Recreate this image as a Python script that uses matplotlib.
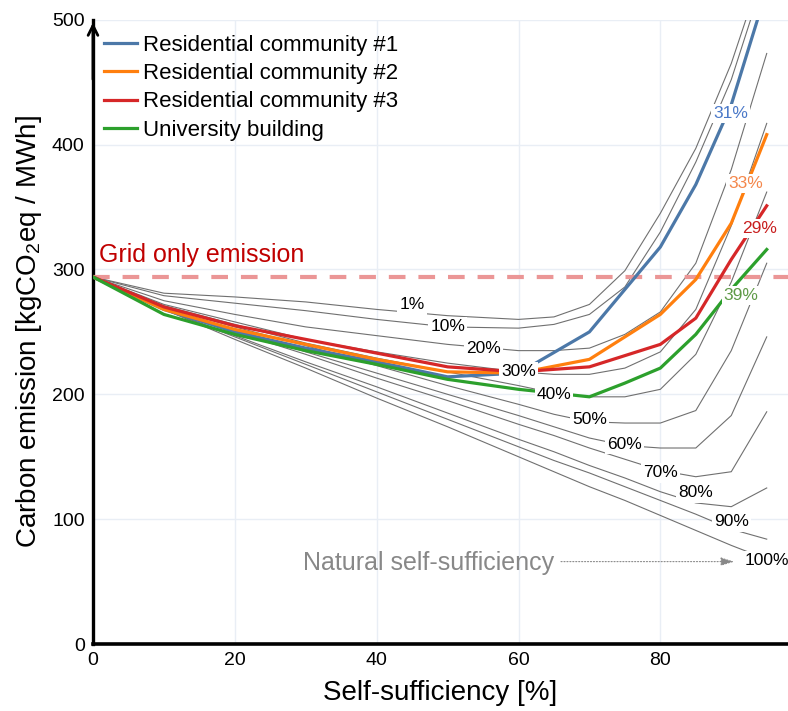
import numpy as np
import matplotlib.pyplot as plt

plt.rcParams['font.family'] = ['Liberation Sans', 'DejaVu Sans']
plt.rcParams['mathtext.default'] = 'regular'

# reference curves (grey), self-sufficiency in %
x_ref = [0, 10, 20, 30, 40, 50, 60, 65, 70, 75, 80, 85, 90, 95]
ref_names = ['1%', '10%', '20%', '30%', '40%', '50%', '60%', '70%', '80%', '90%', '100%']
ref_1 = [294, 281, 278, 274, 268, 263, 260, 262, 272, 299, 345, 397, 465, 550]
ref_10 = [294, 279, 273, 267, 260, 254, 253, 256, 264, 286, 330, 386, 452, 540]
ref_20 = [294, 275, 264, 254, 247, 240, 235, 235, 237, 248, 266, 305, 380, 473]
ref_30 = [294, 272, 258, 244, 234, 225, 218, 216, 216, 221, 234, 268, 335, 417]
ref_40 = [294, 271, 256, 241, 229, 218, 207, 201, 198, 198, 204, 232, 290, 362]
ref_50 = [294, 270, 254, 239, 223, 207, 192, 184, 178, 177, 177, 187, 235, 305]
ref_60 = [294, 269, 252, 234, 217, 200, 183, 174, 165, 159, 157, 157, 183, 246]
ref_70 = [294, 269, 250, 232, 213, 195, 176, 167, 157, 148, 139, 134, 138, 186]
ref_80 = [294, 268, 247, 226, 206, 185, 164, 154, 143, 133, 122, 113, 110, 125]
ref_90 = [294, 268, 246, 224, 202, 180, 158, 147, 137, 126, 115, 104, 92, 84]
ref_100 = [294, 268, 244, 221, 197, 174, 150, 138, 126, 115, 103, 91, 79, 68]
ref_curves = [ref_1, ref_10, ref_20, ref_30, ref_40, ref_50,
              ref_60, ref_70, ref_80, ref_90, ref_100]

# actual cases
x_case = [0, 10, 20, 30, 40, 50, 60, 70, 75, 80, 85, 90, 95]
res1 = [294, 268, 250, 237, 226, 214, 217, 250, 284, 318, 368, 432, 524]
res2 = [294, 268, 252, 240, 228, 218, 217, 228, 246, 264, 292, 337, 408]
res3 = [294, 270, 255, 244, 233, 222, 218, 222, 231, 240, 261, 308, 351]
univ = [294, 264, 248, 235, 224, 212, 204, 198, 209, 221, 248, 284, 316]
case_names = ['Residential community #1', 'Residential community #2',
              'Residential community #3', 'University building']
case_pct = ['31%', '33%', '29%', '39%']
grid_only = 294

line_cols = ['#4c78a8', '#ff7f0e', '#d62728', '#2ca02c']
text_cols = ['#4a78c8', '#f4874b', '#c81e1e', '#5e9a46']

fig = plt.figure(figsize=(7.88, 7.11), dpi=100)
ax = fig.add_axes([0.118, 0.0942, 0.882, 0.878])

for y in ref_curves:
    ax.plot(x_ref, y, color='#707070', lw=0.8, zorder=2)

ax.axhline(grid_only, color='#eb9696', lw=3, dashes=(4, 3.1), zorder=3)
ax.text(0.8, 302, 'Grid only emission', color='#c00000', fontsize=18,
        va='bottom', ha='left')

for y, c, n in zip([res1, res2, res3, univ], line_cols, case_names):
    ax.plot(x_case, y, color=c, lw=2.3, label=n, zorder=4)

# labels of grey curves
lab_x = [45, 50, 55, 60, 65, 70, 75, 80, 85, 90, 95]
lab_y = [271.6, 254, 236.4, 218, 200, 179.5, 159.5, 137, 121, 97.8, 67]
for n, lx, ly in zip(ref_names, lab_x, lab_y):
    ax.text(lx, ly, n, fontsize=12.5, ha='center', va='center', zorder=6,
            bbox=dict(boxstyle='square,pad=0.12', fc='white', ec='none'))

cx = [89.9, 92, 94, 91.4]
cy = [425, 369, 333, 279]
for n, lx, ly, c in zip(case_pct, cx, cy, text_cols):
    ax.text(lx, ly, n, fontsize=12.5, color=c, ha='center', va='center', zorder=6,
            bbox=dict(boxstyle='square,pad=0.12', fc='white', ec='none'))

ax.text(29.6, 65, 'Natural self-sufficiency', color='#888888', fontsize=18,
        va='center', ha='left')
ax.annotate('', xy=(90.8, 66), xytext=(65.6, 66),
            arrowprops=dict(arrowstyle='-|>,head_length=0.8,head_width=0.25',
                            color='#888888', lw=0.8, linestyle=':'))

ax.set_xlim(0, 98)
ax.set_ylim(0, 500)
ax.set_xticks([0, 20, 40, 60, 80])
ax.set_yticks([0, 100, 200, 300, 400, 500])
ax.tick_params(length=0, labelsize=14)
ax.tick_params(axis='y', pad=6)
ax.tick_params(axis='x', pad=6)
ax.grid(color='#e9eef5', lw=1)
ax.set_axisbelow(True)

for s in ['top', 'right']:
    ax.spines[s].set_visible(False)
ax.spines['bottom'].set_linewidth(2.6)
ax.spines['left'].set_linewidth(2.4)
ax.annotate('', xy=(0, 1.0), xytext=(0, 0.9), xycoords='axes fraction',
            arrowprops=dict(arrowstyle='->,head_length=0.7,head_width=0.35',
                            color='black', lw=2.0))

ax.set_xlabel('Self-sufficiency [%]', fontsize=20, labelpad=8)
ax.set_ylabel('Carbon emission [kgCO$_2$eq / MWh]', fontsize=20, labelpad=6)

ax.legend(loc='upper left', bbox_to_anchor=(0.0165, 0.976), frameon=False,
          fontsize=16, handlelength=1.45, handletextpad=0.3,
          labelspacing=0.33, borderaxespad=0, borderpad=0)

fig.savefig('out.png', dpi=100)
